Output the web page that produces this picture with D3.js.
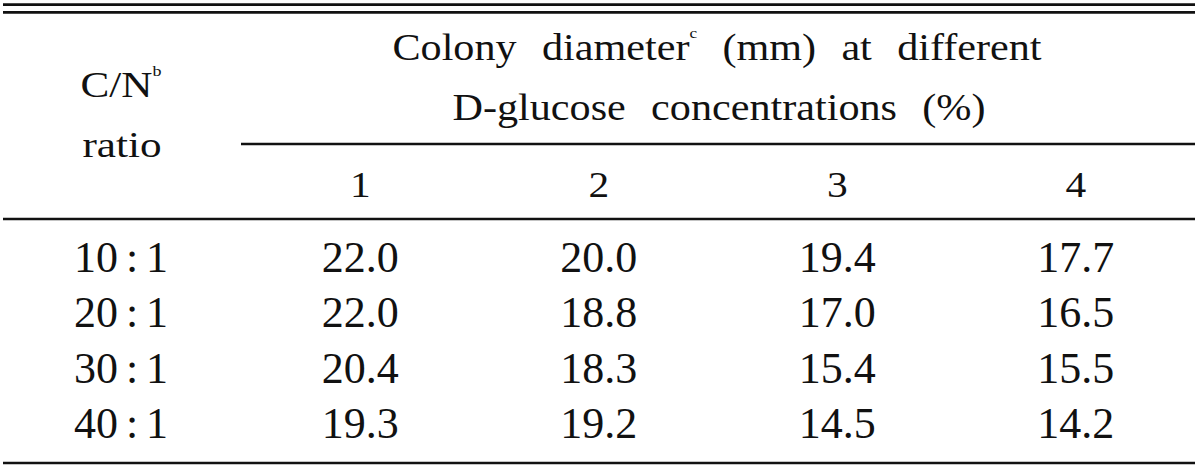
<!DOCTYPE html>
<html>
<head>
<meta charset="utf-8">
<script src="https://cdn.jsdelivr.net/npm/d3@7"></script>
<style>
  body { margin: 0; background: #fff; }
  text { font-family: "Liberation Serif", "Times New Roman", serif; fill: #111; }
</style>
</head>
<body>
<div id="container"></div>
<script>
// table data
const ratios = ["10 : 1", "20 : 1", "30 : 1", "40 : 1"];
const concentrations = ["1", "2", "3", "4"];
const conc1 = [22.0, 22.0, 20.4, 19.3];
const conc2 = [20.0, 18.8, 18.3, 19.2];
const conc3 = [19.4, 17.0, 15.4, 14.5];
const conc4 = [17.7, 16.5, 15.5, 14.2];
const series = [conc1, conc2, conc3, conc4];

const width = 1200, height = 467;
const left = 3, right = 1195;
const splitX = 241; // where the data columns start

const svg = d3.select("#container").append("svg")
  .attr("width", width)
  .attr("height", height);

// data columns
const xData = d3.scaleBand()
  .domain(concentrations)
  .range([splitX, right]);
const colX = d => xData(d) + xData.bandwidth() / 2;
const ratioX = 121;

// body rows (baselines)
const yRows = d3.scalePoint()
  .domain(ratios)
  .range([272, 438]);

// rules
const rules = [
  { x1: left, x2: right, y: 4.7, w: 2.8 },
  { x1: left, x2: right, y: 12.3, w: 2.8 },
  { x1: splitX, x2: right, y: 144, w: 2.4 },
  { x1: left, x2: right, y: 219, w: 2.4 },
  { x1: left, x2: right, y: 463, w: 2.4 }
];
svg.selectAll("line.rule")
  .data(rules)
  .enter()
  .append("line")
  .attr("class", "rule")
  .attr("x1", d => d.x1)
  .attr("x2", d => d.x2)
  .attr("y1", d => d.y)
  .attr("y2", d => d.y)
  .attr("stroke", "#111")
  .attr("stroke-width", d => d.w);

// header text in the source is a wide serif, so stretch it a bit
function wideText(cx, y, sx, size) {
  return svg.append("g")
    .attr("transform", `translate(${cx}, ${y}) scale(${sx}, 1)`)
    .append("text")
    .attr("x", 0)
    .attr("y", 0)
    .attr("text-anchor", "middle")
    .style("font-size", size + "px");
}

const hdrX = 717;
const hdrSize = 37;

const h1 = wideText(hdrX, 60, 1.14, hdrSize).style("word-spacing", "13px");
h1.append("tspan").text("Colony diameter");
h1.append("tspan").attr("dy", -22).style("font-size", "15px").text("c");
h1.append("tspan").attr("dy", 22).text(" (mm) at different");

wideText(719, 120, 1.14, hdrSize)
  .style("word-spacing", "13px")
  .text("D-glucose concentrations (%)");

const cn = wideText(ratioX, 97, 1.2, 36);
cn.append("tspan").text("C/N");
cn.append("tspan").attr("dy", -21).style("font-size", "15px").text("b");

wideText(ratioX + 1, 157, 1.2, 36).text("ratio");

// concentration column labels
concentrations.forEach(c => {
  wideText(colX(c), 197, 1.15, 36).text(c);
});

// ratio row labels
svg.selectAll("text.rowhead")
  .data(ratios)
  .enter()
  .append("text")
  .attr("class", "rowhead")
  .attr("x", ratioX)
  .attr("y", d => yRows(d))
  .attr("text-anchor", "middle")
  .style("font-size", "44px")
  .style("word-spacing", "-3px")
  .text(d => d);

// values
series.forEach((vals, j) => {
  svg.selectAll("text.val" + j)
    .data(vals)
    .enter()
    .append("text")
    .attr("class", "val" + j)
    .attr("x", colX(concentrations[j]))
    .attr("y", (v, i) => yRows(ratios[i]))
    .attr("text-anchor", "middle")
    .style("font-size", "44px")
    .text(v => v.toFixed(1));
});
</script>
</body>
</html>
